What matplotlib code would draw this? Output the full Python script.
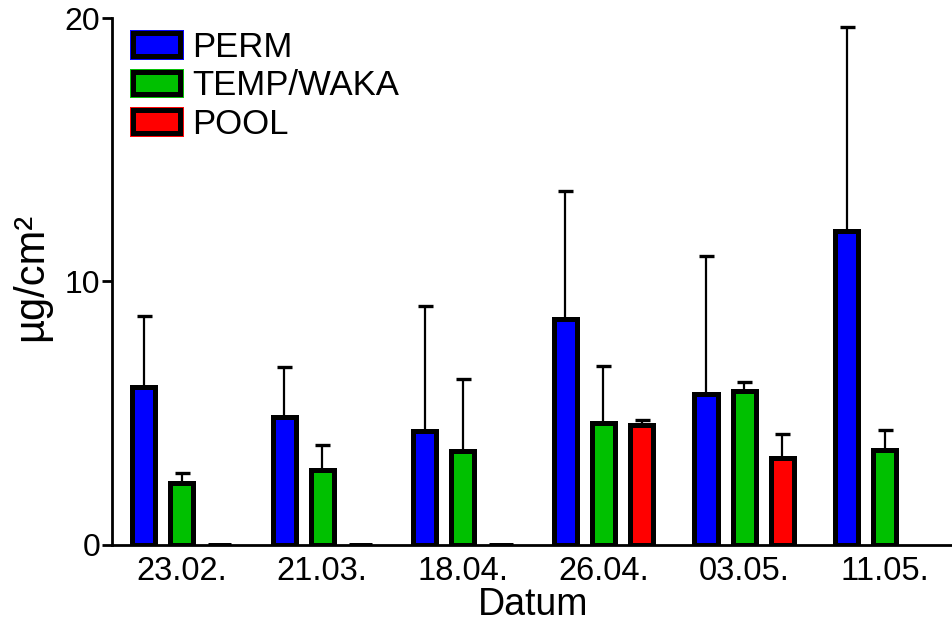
import numpy as np
import matplotlib
matplotlib.use("Agg")
import matplotlib.pyplot as plt
from matplotlib import patheffects

plt.rcParams['font.family'] = ['Liberation Sans', 'DejaVu Sans']

# Sampling dates and series values (mean, SD upward only)
dates = ["23.02.", "21.03.", "18.04.", "26.04.", "03.05.", "11.05."]
series = ["PERM", "TEMP/WAKA", "POOL"]
perm_mean = [5.98, 4.85, 4.30, 8.58, 5.72, 11.93]
perm_sd = [2.72, 1.91, 4.75, 4.85, 5.26, 7.74]
temp_mean = [2.34, 2.85, 3.54, 4.62, 5.82, 3.60]
temp_sd = [0.38, 0.95, 2.76, 2.18, 0.35, 0.75]
pool_mean = [0.0, 0.0, 0.0, 4.54, 3.30, np.nan]
pool_sd = [0.0, 0.0, 0.0, 0.18, 0.91, np.nan]
colors = ["#0000FF", "#00C000", "#FF0000"]

means = [perm_mean, temp_mean, pool_mean]
sds = [perm_sd, temp_sd, pool_sd]

fig = plt.figure(figsize=(9.53, 6.24), dpi=100)
ax = fig.add_axes([0.1178, 0.1274, 0.8822, 0.843])

x = np.arange(len(dates))
offset = 0.271
width = 0.164
handles = []
for i, (m, s, c, name) in enumerate(zip(means, sds, colors, series)):
    pos = x + (i - 1) * offset
    m = np.asarray(m, dtype=float)
    s = np.asarray(s, dtype=float)
    ax.errorbar(pos, m, yerr=[np.zeros_like(s), s], fmt='none', ecolor='black',
                elinewidth=1.6, capsize=5.4, capthick=2.4, zorder=2)
    b = ax.bar(pos, m, width=width, color=c, edgecolor='black', linewidth=3.6,
               label=name, zorder=3)
    handles.append(b)

ax.set_xlim(-0.494, 5.486)
ax.set_ylim(0, 20)
ax.set_yticks([0, 10, 20])
ax.set_xticks(x)
ax.set_xticklabels(dates)

for side in ("top", "right"):
    ax.spines[side].set_visible(False)
for side in ("left", "bottom"):
    ax.spines[side].set_linewidth(2.0)

ax.tick_params(axis='y', direction='out', length=7.2, width=2.0, pad=1.5,
               labelsize=23)
ax.tick_params(axis='x', length=0, pad=8, labelsize=23.5)

ax.set_xlabel("Datum", fontsize=27, labelpad=0)
ax.set_ylabel("µg/cm²", fontsize=30)
ax.yaxis.set_label_coords(-0.073, 0.508)

leg = ax.legend(handles=handles, loc='upper left',
                bbox_to_anchor=(0.1396, 0.951), bbox_transform=fig.transFigure,
                frameon=False, fontsize=25, handlelength=1.35, handleheight=0.62,
                handletextpad=0.35, labelspacing=0.16, borderpad=0,
                borderaxespad=0)
for h, c in zip(leg.legend_handles, colors):
    h.set_path_effects([patheffects.Stroke(linewidth=5.0, foreground=c),
                        patheffects.Normal()])

fig.savefig("out.png", dpi=100)
